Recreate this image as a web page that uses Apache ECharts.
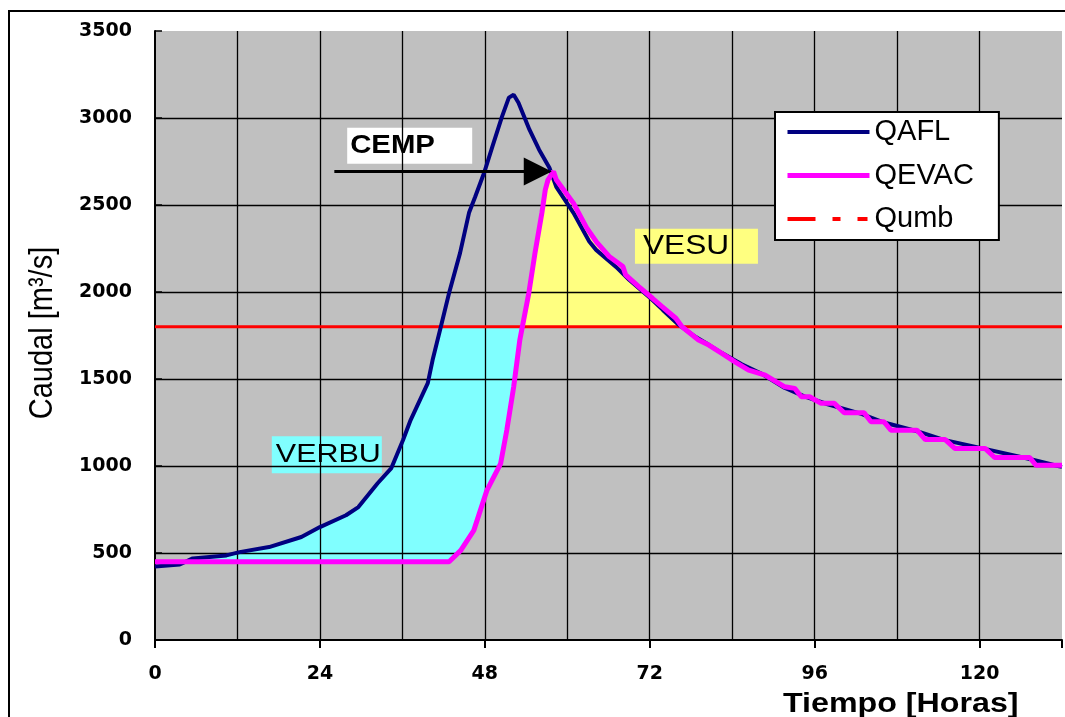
<!DOCTYPE html>
<html>
<head>
<meta charset="utf-8">
<title>Hidrograma de crecida</title>
<script src="https://cdn.jsdelivr.net/npm/echarts@6/dist/echarts.min.js"></script>
<style>
  html, body { margin: 0; padding: 0; background: #fff; }
  #chart { width: 1065px; height: 717px; }
</style>
</head>
<body>
<div id="chart"></div>
<script>
// Hydrographs as [hours, flow m³/s]
const qafl = [
  [0, 423], [3.6, 434], [5.5, 469], [10.4, 486], [12.3, 505], [16.6, 534], [21.3, 592],
  [24, 649], [27.8, 717], [29.6, 764], [32.4, 901], [34.4, 988], [36.1, 1149], [37.2, 1264],
  [39.7, 1476], [40.4, 1609], [41.6, 1800], [42.8, 1994], [44.4, 2225], [45.7, 2455],
  [46.6, 2547], [47.9, 2685], [49.1, 2835], [50.5, 3008], [51.5, 3117], [52.2, 3134],
  [52.9, 3088], [54.5, 2933], [55.9, 2818], [57.4, 2714], [58.4, 2604], [60.9, 2455],
  [63.2, 2290], [64.2, 2242], [67.1, 2144], [69, 2070], [71.9, 1972], [73.9, 1897],
  [76.2, 1812], [78.7, 1741], [80.1, 1708], [82.5, 1649], [85.4, 1585], [88.3, 1530],
  [91.6, 1450], [94.5, 1400], [97.9, 1355], [102.8, 1300], [106.1, 1250], [110.9, 1200],
  [114.8, 1150], [120.6, 1100], [127.3, 1040], [131.4, 1000], [132, 995]
];
const qevac = [
  [0, 450], [42.8, 450], [44.5, 515], [46.4, 630], [48.3, 860], [50.3, 1014], [51.2, 1206],
  [52.2, 1455], [53.1, 1726], [54.4, 1993], [55.3, 2223], [56.3, 2453], [56.8, 2587],
  [57.2, 2645], [58.0, 2693], [58.4, 2645], [60.9, 2510], [62.8, 2370], [64.2, 2290],
  [66.1, 2204], [68.1, 2146], [68.5, 2098], [70.4, 2031], [72.4, 1964], [73.8, 1916],
  [75.8, 1849], [76.7, 1800], [79.1, 1724], [80.6, 1695], [82.5, 1647], [84.4, 1599],
  [86.4, 1551], [88.8, 1522], [91.65, 1455], [93.1, 1446], [94.06, 1398], [95.26, 1398],
  [96.95, 1360], [98.87, 1360], [100.3, 1306], [103.2, 1306], [104.2, 1254], [106.1, 1254],
  [107.1, 1206], [110.9, 1206], [112.1, 1152], [115.0, 1152], [116.4, 1101], [120.8, 1101],
  [122.2, 1049], [127.3, 1049], [128.2, 1004], [132, 1004]
];
// Threshold flow (Qumb)
const qumb = 1800;
// Time axis extent and ticks (hours)
const hoursMax = 132;
const hoursLabelStep = 24;
const hoursGridStep = 12;
// Flow axis (m³/s)
const flowMax = 3500;
const flowStep = 500;
// Arrow showing the peak attenuation (CEMP), in [hours, m³/s]
const cempArrow = [[26.1, 2692], [55.7, 2692]];

// Linear interpolation of a hydrograph at time h
function interp(series, h) {
  if (h <= series[0][0]) return series[0][1];
  for (let i = 1; i < series.length; i++) {
    if (h <= series[i][0]) {
      const h0 = series[i - 1][0], q0 = series[i - 1][1];
      const h1 = series[i][0], q1 = series[i][1];
      return h1 === h0 ? q1 : q0 + (q1 - q0) * (h - h0) / (h1 - h0);
    }
  }
  return series[series.length - 1][1];
}
const af = h => interp(qafl, h);
const ev = h => interp(qevac, h);

// Polygon between two curves, projected through the cartesian axes
function band(api, from, to, upper, lower) {
  const top = [], bot = [];
  for (let h = from; h <= to + 1e-9; h += 0.02) {
    top.push(api.coord([h, upper(h)]));
    bot.push(api.coord([h, lower(h)]));
  }
  return top.concat(bot.reverse());
}

const chart = echarts.init(document.getElementById('chart'));

const gridLine = { show: true, lineStyle: { color: '#000', width: 1.3 } };
const tickFont = { fontFamily: 'DejaVu Sans', fontWeight: 'bold', fontSize: 19, color: '#000' };

chart.setOption({
  animation: false,
  backgroundColor: '#fff',
  grid: {
    left: 155, top: 31, width: 914, height: 609,
    show: true, backgroundColor: '#C0C0C0', borderWidth: 0
  },
  legend: {
    data: [
      { name: 'QAFL', lineStyle: { width: 4 } },
      { name: 'QEVAC', lineStyle: { width: 5 } },
      { name: 'Qumb', lineStyle: { width: 4, type: [28, 17, 8, 17, 10, 60] } }
    ],
    orient: 'vertical',
    left: 775, top: 112,
    backgroundColor: '#fff', borderColor: '#000', borderWidth: 2, borderRadius: 0,
    padding: [5, 25, 6, 10],
    itemGap: 13.5, itemWidth: 82, itemHeight: 30,
    selectedMode: false,
    itemStyle: { color: 'transparent', borderWidth: 0, opacity: 0 },
    textStyle: { fontFamily: 'Liberation Sans', fontSize: 29, lineHeight: 30, color: '#000' }
  },
  xAxis: [
    {
      // 12-hour grid
      type: 'value', min: 0, max: hoursMax, interval: hoursGridStep, z: 2,
      axisLine: { show: true, onZero: false, lineStyle: { color: '#000', width: 2 } },
      axisTick: { show: false },
      axisLabel: { show: false },
      splitLine: Object.assign({ showMinLine: false, showMaxLine: false }, gridLine)
    },
    {
      // 24-hour ticks and labels
      type: 'value', min: 0, max: hoursMax, interval: hoursLabelStep, position: 'bottom', z: 2,
      axisLine: { show: false },
      axisTick: { show: true, inside: false, length: 8, lineStyle: { color: '#000', width: 2 } },
      axisLabel: Object.assign({
        margin: 25,
        formatter: v => (v % hoursLabelStep === 0 && v < hoursMax) ? String(v) : ''
      }, tickFont),
      splitLine: { show: false }
    }
  ],
  yAxis: {
    type: 'value', min: 0, max: flowMax, interval: flowStep, z: 2,
    axisLine: { show: true, lineStyle: { color: '#000', width: 2 } },
    axisTick: { show: true, inside: true, length: 7, lineStyle: { color: '#000', width: 1.5 } },
    axisLabel: Object.assign({ margin: 23, formatter: v => String(v) }, tickFont),
    splitLine: Object.assign({ showMinLine: false, showMaxLine: false }, gridLine)
  },
  series: [
    {
      // VERBU: volume stored while the inflow is below the threshold
      type: 'custom', name: 'VERBU', z: 1, silent: true, clip: true,
      xAxisIndex: 0, data: [[0, 0]],
      renderItem: (params, api) => ({
        type: 'polygon',
        shape: { points: band(api, 0, 60, h => Math.max(ev(h), Math.min(af(h), qumb)), ev) },
        style: { fill: '#80FFFF', stroke: null }
      })
    },
    {
      // VESU: volume released above the threshold
      type: 'custom', name: 'VESU', z: 1, silent: true, clip: true,
      xAxisIndex: 0, data: [[0, 0]],
      renderItem: (params, api) => ({
        type: 'polygon',
        shape: { points: band(api, 45, 90, h => Math.max(ev(h), qumb), () => qumb) },
        style: { fill: '#FFFF80', stroke: null }
      })
    },
    {
      type: 'line', name: 'Qumb', z: 3, xAxisIndex: 0,
      data: [[0, qumb], [hoursMax, qumb]],
      symbol: 'none', silent: true,
      lineStyle: { color: '#FF0000', width: 3 },
      itemStyle: { color: '#FF0000' }
    },
    {
      type: 'line', name: 'QAFL', z: 3, xAxisIndex: 0,
      data: qafl, symbol: 'none', silent: true,
      lineStyle: { color: '#000080', width: 4 },
      itemStyle: { color: '#000080' },
      markLine: {
        silent: true, animation: false,
        symbol: ['none', 'triangle'], symbolSize: 28,
        label: { show: false },
        lineStyle: { color: '#000', width: 3, type: 'solid' },
        itemStyle: { color: '#000' },
        data: [[{ coord: cempArrow[0] }, { coord: cempArrow[1] }]]
      }
    },
    {
      type: 'line', name: 'QEVAC', z: 3, xAxisIndex: 0,
      data: qevac, symbol: 'none', silent: true,
      lineStyle: { color: '#FF00FF', width: 5 },
      itemStyle: { color: '#FF00FF' }
    }
  ]
});

// Annotation boxes anchored in data space (top-left corner in [hours, m³/s])
const toPx = p => chart.convertToPixel({ gridIndex: 0 }, p);
function labelBox(text, anchor, w, h, fill, font, pad) {
  const p = toPx(anchor);
  return {
    type: 'group', x: p[0], y: p[1], z: 50, silent: true,
    children: [
      { type: 'rect', shape: { x: 0, y: 0, width: w, height: h }, style: { fill: fill } },
      {
        type: 'text', x: pad, y: h / 2, scaleX: 1.15,
        style: {
          text: text, font: font, fill: '#000',
          align: 'left', verticalAlign: 'middle', textAlign: 'left', textVerticalAlign: 'middle'
        }
      }
    ]
  };
}

chart.setOption({
  graphic: [
    {
      type: 'rect', silent: true, z: 60,
      shape: { x: 9, y: 11, width: 1100, height: 800 },
      style: { fill: 'transparent', stroke: '#000', lineWidth: 2 }
    },
    labelBox('CEMP', [27.97, 2944], 125, 36, '#fff', 'bold 25.5px "Liberation Sans"', 3),
    labelBox('VERBU', [17.0, 1171], 110, 37, '#80FFFF', '26.5px "Liberation Sans"', 4),
    labelBox('VESU', [69.85, 2363], 123, 35, '#FFFF80', '27.5px "Liberation Sans"', 8),
    {
      type: 'text', x: 783, y: 704, scaleX: 1.15, silent: true, z: 50,
      style: {
        text: 'Tiempo [Horas]', font: 'bold 28px "Liberation Sans"', fill: '#000',
        align: 'left', verticalAlign: 'middle', textAlign: 'left', textVerticalAlign: 'middle'
      }
    },
    {
      type: 'text', x: 43, y: 333, rotation: Math.PI / 2, scaleY: 1.15, silent: true, z: 50,
      style: {
        text: 'Caudal [m³/s]', font: '29px "Liberation Sans"', fill: '#000',
        align: 'center', verticalAlign: 'middle', textAlign: 'center', textVerticalAlign: 'middle'
      }
    }
  ]
});
</script>
</body>
</html>
